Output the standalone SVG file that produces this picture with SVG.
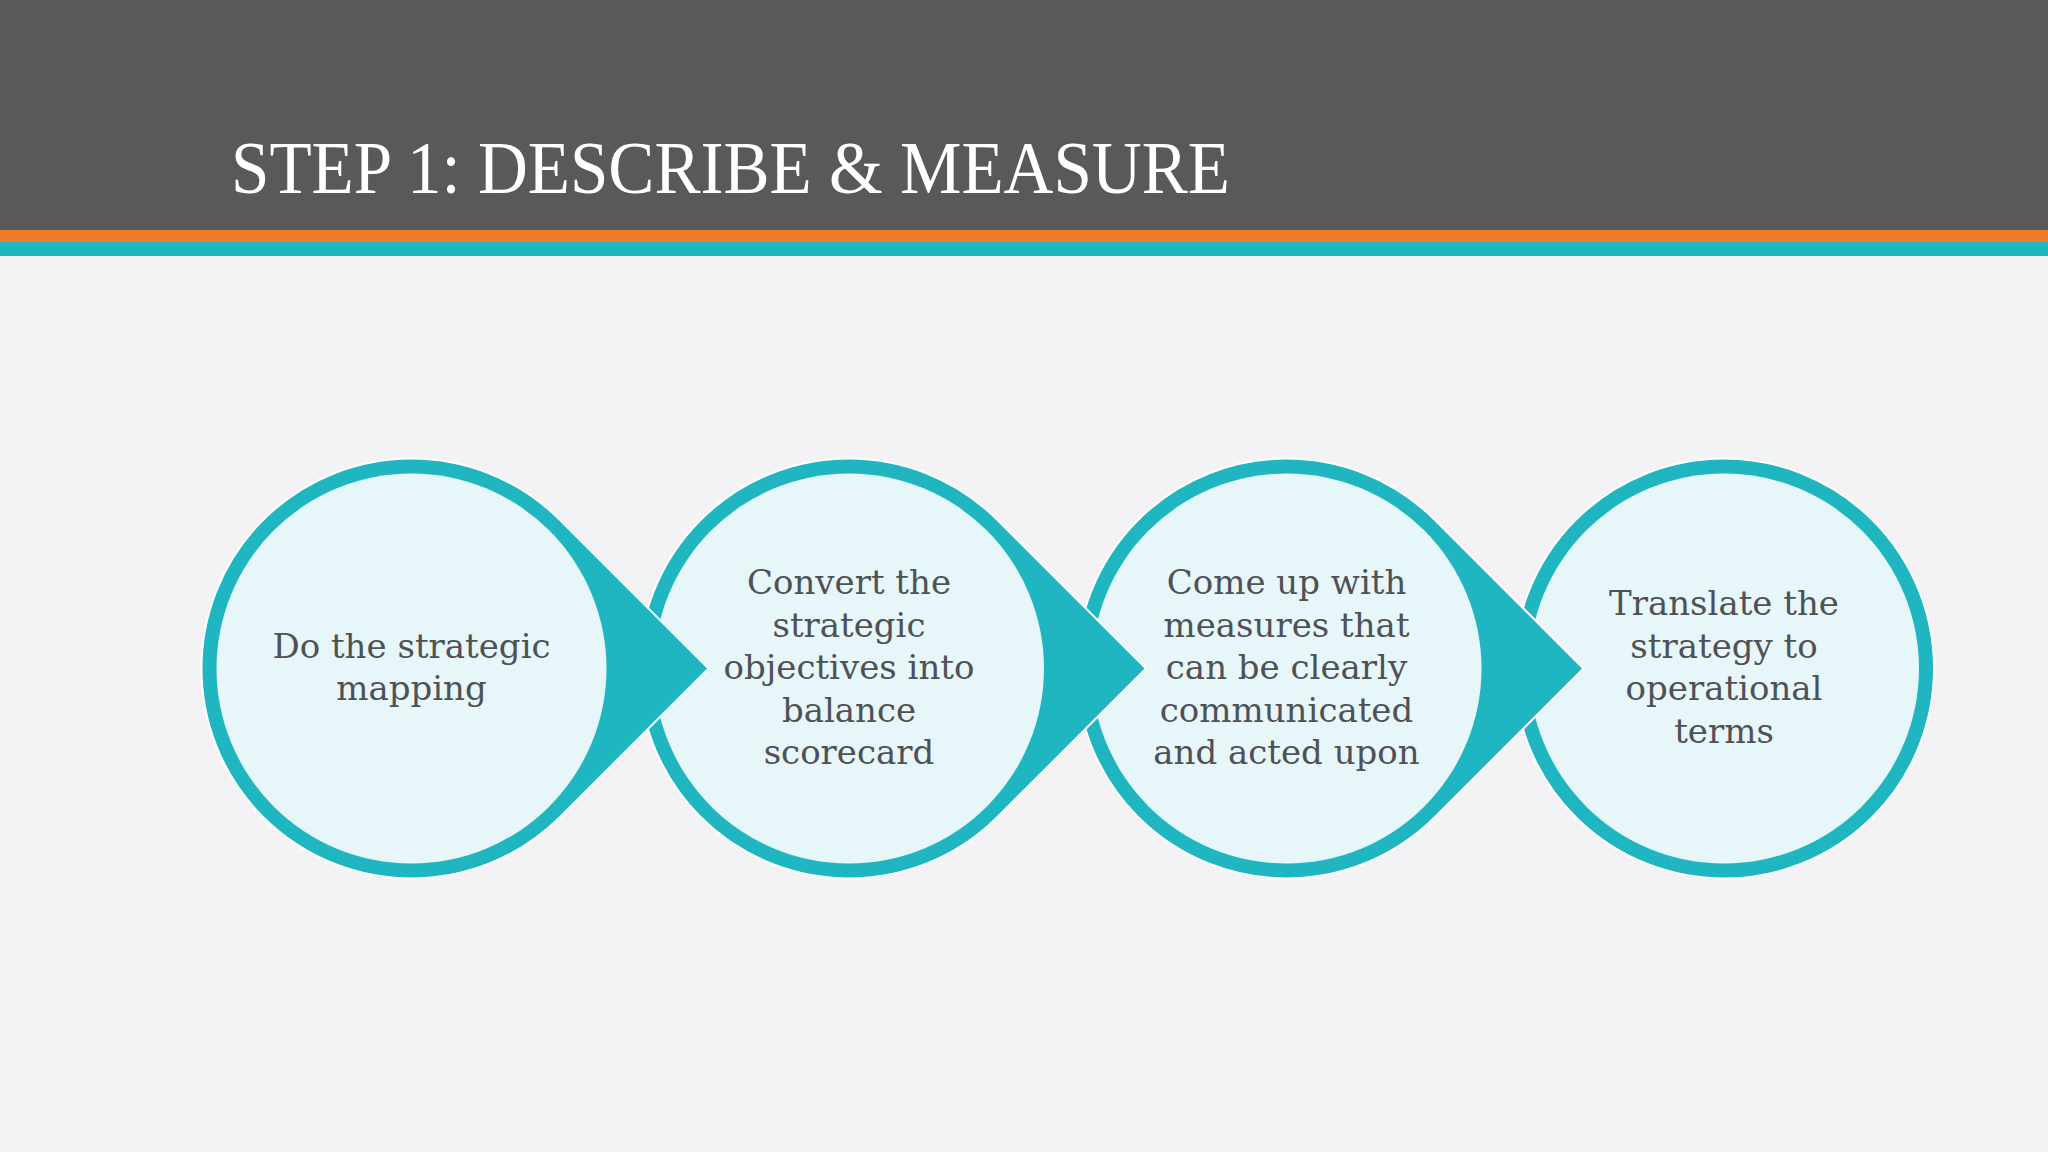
<svg xmlns="http://www.w3.org/2000/svg" width="2048" height="1152" viewBox="0 0 2048 1152">
  <style>
    .ring { fill: #20b6c1; stroke: #ffffff; stroke-width: 2; }
    .inner { fill: #e7f6f9; }
    .label { font-family: "DejaVu Serif", "Liberation Serif", serif; font-size: 34px; fill: #4f5156; text-anchor: middle; }
    .title { font-family: "Liberation Serif", "Times New Roman", serif; font-size: 75px; fill: #ffffff; }
    .tip { fill: #20b6c1; }
    .tipedge { fill: none; stroke: #ffffff; stroke-width: 2; stroke-linejoin: miter; }
  </style>
  <rect x="0" y="0" width="2048" height="1152" fill="#f3f2f4"/>
  <g id="header">
    <rect x="0" y="0" width="2048" height="230" fill="#595959"/>
    <rect x="0" y="230" width="2048" height="12" fill="#ee7b2a"/>
    <rect x="0" y="242" width="2048" height="14" fill="#20b6c1"/>
    <text class="title" x="231" y="193" textLength="999" lengthAdjust="spacingAndGlyphs">STEP 1: DESCRIBE &amp; MEASURE</text>
  </g>
  <g id="node1">
    <circle class="ring" cx="411.5" cy="668.5" r="210"/>
    <circle class="inner" cx="411.5" cy="668.5" r="195"/>
    <text class="label" x="411.5" y="658">Do the strategic</text>
    <text class="label" x="411.5" y="700">mapping</text>
  </g>
  <g id="node2">
    <circle class="ring" cx="849" cy="668.5" r="210"/>
    <circle class="inner" cx="849" cy="668.5" r="195"/>
    <text class="label" x="849" y="594">Convert the</text>
    <text class="label" x="849" y="637">strategic</text>
    <text class="label" x="849" y="679">objectives into</text>
    <text class="label" x="849" y="722">balance</text>
    <text class="label" x="849" y="764">scorecard</text>
  </g>
  <g id="node3">
    <circle class="ring" cx="1286.5" cy="668.5" r="210"/>
    <circle class="inner" cx="1286.5" cy="668.5" r="195"/>
    <text class="label" x="1286.5" y="594">Come up with</text>
    <text class="label" x="1286.5" y="637">measures that</text>
    <text class="label" x="1286.5" y="679">can be clearly</text>
    <text class="label" x="1286.5" y="722">communicated</text>
    <text class="label" x="1286.5" y="764">and acted upon</text>
  </g>
  <g id="node4">
    <circle class="ring" cx="1724" cy="668.5" r="210"/>
    <circle class="inner" cx="1724" cy="668.5" r="195"/>
    <text class="label" x="1724" y="615">Translate the</text>
    <text class="label" x="1724" y="658">strategy to</text>
    <text class="label" x="1724" y="700">operational</text>
    <text class="label" x="1724" y="743">terms</text>
  </g>
  <g id="connectors">
    <g id="arrow1">
      <path class="tip" d="M560,520 L708.5,668.5 L560,817 L555,812 A203,203 0 0 0 555,525 Z"/>
      <path class="tipedge" d="M560,520 L708.5,668.5 L560,817"/>
    </g>
    <g id="arrow2">
      <path class="tip" d="M997.5,520 L1146,668.5 L997.5,817 L992.5,812 A203,203 0 0 0 992.5,525 Z"/>
      <path class="tipedge" d="M997.5,520 L1146,668.5 L997.5,817"/>
    </g>
    <g id="arrow3">
      <path class="tip" d="M1435,520 L1583.5,668.5 L1435,817 L1430,812 A203,203 0 0 0 1430,525 Z"/>
      <path class="tipedge" d="M1435,520 L1583.5,668.5 L1435,817"/>
    </g>
  </g>
</svg>
